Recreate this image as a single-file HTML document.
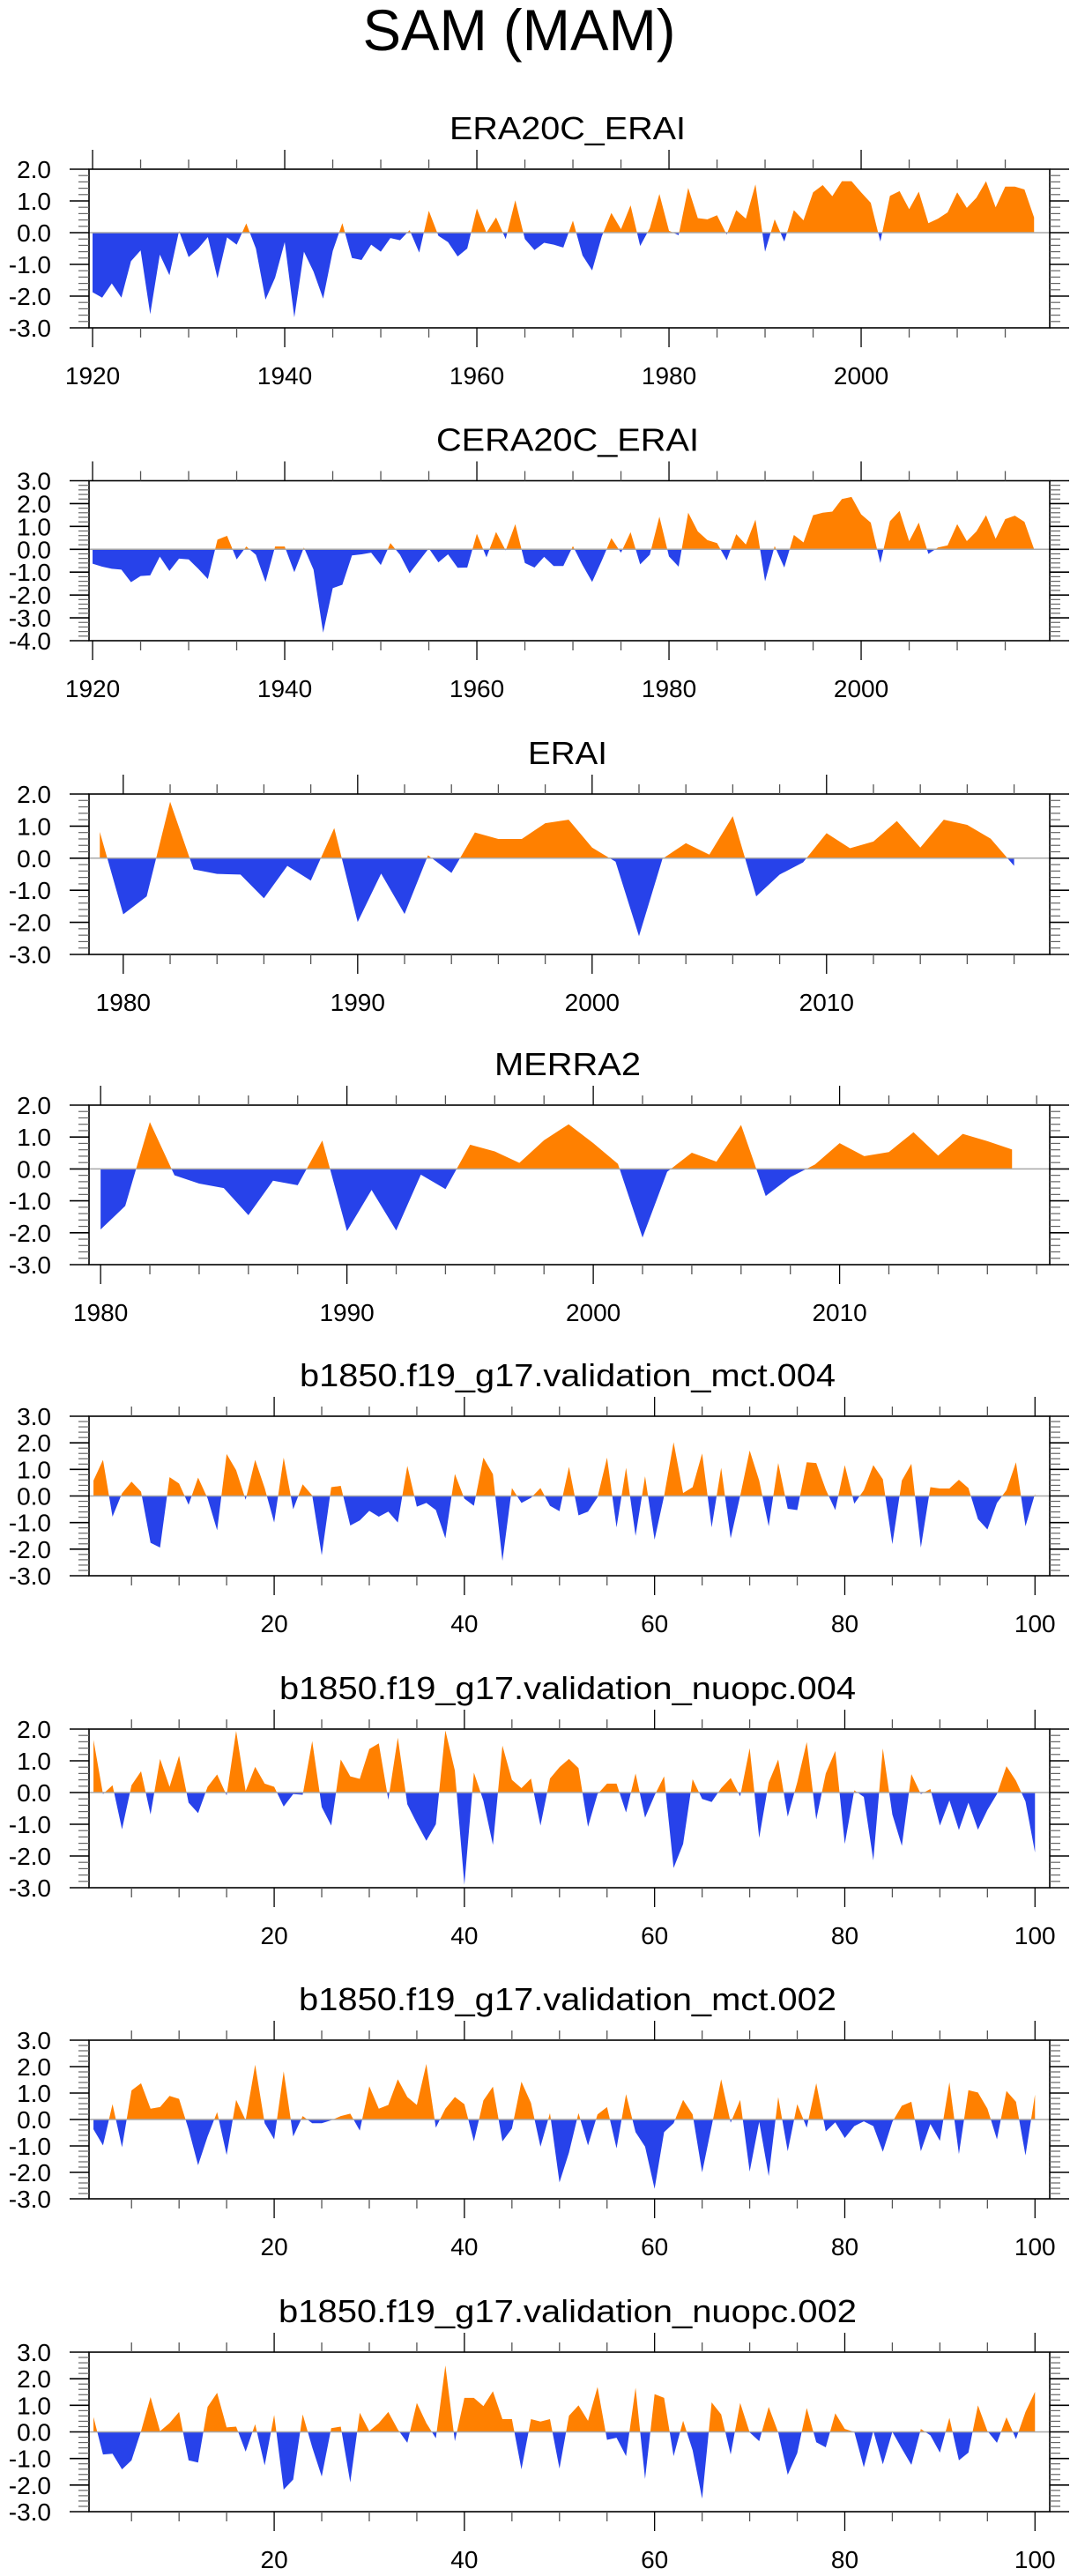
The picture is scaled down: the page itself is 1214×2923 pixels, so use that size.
<!DOCTYPE html>
<html>
<head>
<meta charset="utf-8">
<style>
  html,body{margin:0;padding:0;background:#fff;}
  svg{display:block;}
  text{font-family:"Liberation Sans",Arial,sans-serif;fill:#000;}
</style>
</head>
<body>
<svg id="chart" width="1214" height="2923" viewBox="0 0 1214 2923" xmlns="http://www.w3.org/2000/svg">
  <text x="589" y="57" font-size="66" text-anchor="middle" textLength="355" lengthAdjust="spacingAndGlyphs">SAM (MAM)</text>
</svg>
<script>
// ---------- data ----------
const era20cStartYear = 1920;
const era20cVals = [-1.88,-2.05,-1.6,-2.05,-0.9,-0.56,-2.57,-0.69,-1.34,0.05,-0.77,-0.5,-0.14,-1.44,-0.15,-0.38,0.29,-0.5,-2.11,-1.42,-0.3,-2.67,-0.6,-1.23,-2.08,-0.58,0.3,-0.8,-0.86,-0.38,-0.6,-0.17,-0.24,0.08,-0.63,0.69,-0.1,-0.3,-0.75,-0.5,0.76,0,0.48,-0.2,1.02,-0.2,-0.55,-0.32,-0.38,-0.47,0.38,-0.72,-1.19,-0.12,0.62,0.11,0.86,-0.42,0.14,1.22,0.06,-0.08,1.41,0.46,0.42,0.55,-0.06,0.71,0.44,1.52,-0.6,0.42,-0.28,0.71,0.39,1.27,1.5,1.15,1.62,1.62,1.27,0.94,-0.28,1.16,1.31,0.74,1.29,0.3,0.44,0.64,1.27,0.78,1.1,1.62,0.8,1.45,1.45,1.36,0.48];
const cera20cStartYear = 1920;
const cera20cVals = [-0.63,-0.76,-0.85,-0.89,-1.44,-1.17,-1.14,-0.32,-0.95,-0.41,-0.44,-0.85,-1.3,0.42,0.59,-0.44,0.12,-0.24,-1.43,0.12,0.12,-1.0,0.08,-0.89,-3.65,-1.7,-1.55,-0.27,-0.22,-0.15,-0.69,0.27,-0.24,-1.05,-0.5,0.04,-0.57,-0.22,-0.81,-0.8,0.68,-0.35,0.76,-0.05,1.1,-0.6,-0.8,-0.33,-0.73,-0.73,0.14,-0.69,-1.43,-0.5,0.49,-0.15,0.75,-0.66,-0.24,1.43,-0.31,-0.76,1.6,0.78,0.4,0.27,-0.48,0.66,0.21,1.3,-1.4,0.14,-0.8,0.63,0.3,1.49,1.6,1.65,2.2,2.29,1.53,1.17,-0.6,1.23,1.68,0.36,1.17,-0.2,0.08,0.17,1.1,0.36,0.78,1.49,0.46,1.32,1.47,1.2,0.01];
const eraiStartYear = 1979;
const eraiVals = [0.82,-1.75,-1.19,1.76,-0.35,-0.49,-0.51,-1.25,-0.24,-0.7,0.94,-1.99,-0.48,-1.74,0.09,-0.46,0.8,0.6,0.6,1.09,1.2,0.33,-0.11,-2.43,-0.02,0.47,0.11,1.31,-1.19,-0.51,-0.13,0.78,0.31,0.52,1.16,0.33,1.2,1.04,0.61,-0.24];
const merra2StartYear = 1980;
const merra2Vals = [-1.9,-1.16,1.47,-0.2,-0.46,-0.6,-1.45,-0.37,-0.51,0.89,-1.95,-0.66,-1.93,-0.18,-0.63,0.76,0.55,0.19,0.9,1.4,0.81,0.16,-2.15,-0.09,0.51,0.23,1.38,-0.85,-0.26,0.14,0.81,0.4,0.53,1.15,0.42,1.1,0.87,0.61];
const mct004Vals = [0.58,1.36,-0.78,0.1,0.54,0.16,-1.76,-1.94,0.71,0.47,-0.33,0.69,-0.09,-1.29,1.58,0.97,-0.14,1.36,0.3,-1.0,1.44,-0.5,0.44,0.02,-2.23,0.33,0.38,-1.11,-0.92,-0.56,-0.78,-0.59,-1.0,1.13,-0.4,-0.26,-0.53,-1.59,0.83,-0.1,-0.37,1.44,0.82,-2.44,0.3,-0.26,-0.07,0.3,-0.37,-0.57,1.1,-0.73,-0.59,-0.05,1.44,-1.18,1.06,-1.5,0.74,-1.64,0,2.02,0.11,0.33,1.6,-1.18,1.06,-1.59,0,1.71,0.58,-1.14,1.24,-0.48,-0.53,1.27,1.24,0.24,-0.53,1.16,-0.29,0.22,1.16,0.63,-1.81,0.58,1.21,-1.94,0.33,0.28,0.28,0.61,0.3,-0.87,-1.26,-0.26,0.22,1.27,-1.14,0.08];
const nuopc004Vals = [1.66,-0.05,0.23,-1.16,0.23,0.67,-0.69,1.06,0.18,1.16,-0.32,-0.65,0.18,0.57,-0.09,1.94,0.05,0.81,0.28,0.18,-0.44,-0.05,-0.07,1.62,-0.46,-1.04,1.04,0.51,0.43,1.37,1.55,-0.23,1.73,-0.37,-0.97,-1.52,-1.0,1.96,0.69,-2.91,0.63,-0.26,-1.65,1.48,0.4,0.14,0.44,-1.04,0.44,0.8,1.06,0.77,-1.08,-0.05,0.28,0.28,-0.63,0.6,-0.79,-0.09,0.51,-2.38,-1.62,0.42,-0.2,-0.3,0.14,0.46,-0.12,1.4,-1.43,0.32,1.04,-0.76,0.32,1.59,-0.85,0.6,1.31,-1.62,0.07,-0.14,-2.14,1.39,-0.69,-1.68,0.58,-0.05,0.11,-1.04,-0.25,-1.18,-0.32,-1.17,-0.55,-0.05,0.83,0.37,-0.28,-1.89];
const mct002Vals = [-0.37,-0.98,0.58,-1.05,1.1,1.37,0.41,0.47,0.89,0.78,-0.37,-1.73,-0.64,0.28,-1.34,0.74,-0.03,2.07,-0.14,-0.75,1.82,-0.64,0.13,-0.14,-0.14,-0.03,0.13,0.22,-0.42,1.26,0.41,0.55,1.52,0.85,0.55,2.1,-0.31,0.41,0.85,0.58,-0.83,0.72,1.24,-0.83,-0.34,1.43,0.63,-1.03,0.24,-2.38,-1.25,0.24,-0.98,0.19,0.47,-1.09,0.96,-0.48,-1.03,-2.62,-0.48,-0.14,0.74,0.19,-2.0,-0.25,1.52,-0.12,0.74,-1.97,-0.09,-2.14,0.85,-1.2,0.58,-0.31,1.37,-0.45,-0.11,-0.7,-0.25,-0.07,-0.25,-1.22,-0.09,0.52,0.67,-1.2,-0.17,-0.81,1.41,-1.31,1.11,1.02,0.41,-0.75,1.08,0.67,-1.36,0.94];
const nuopc002Vals = [0.56,-0.85,-0.82,-1.41,-1.07,0.03,1.31,0.03,0.33,0.75,-1.07,-1.15,0.94,1.47,0.17,0.2,-0.74,0.29,-1.26,0.64,-2.17,-1.79,0.66,-0.58,-1.68,0.14,0.2,-1.9,0.72,0.03,0.33,0.75,0.09,-0.41,1.09,0.33,-0.24,2.5,-0.35,1.28,1.28,0.97,1.53,0.48,0.48,-1.41,0.48,0.39,0.48,-1.38,0.61,1.0,0.42,1.69,-0.3,-0.22,-0.91,1.66,-1.77,1.42,1.28,-0.91,0.42,-0.69,-2.51,1.11,0.66,-0.85,1.09,-0.02,-0.35,0.94,-0.02,-1.61,-0.8,0.9,-0.39,-0.58,0.7,0.11,0,-1.33,0.03,-1.22,0,-0.63,-1.24,0.11,-0.13,-0.78,0.53,-1.07,-0.78,1.0,0.03,-0.41,0.55,-0.27,0.75,1.51];
const modelStartIndex = 1;

// tick label arrays
const centuryTickLabels = [1920,1940,1960,1980,2000];
const eraiTickLabels = [1980,1990,2000,2010];
const merra2TickLabels = [1980,1990,2000,2010];
const indexTickLabels = [20,40,60,80,100];

function seq(start, n){ const a=[]; for(let i=0;i<n;i++) a.push(start+i); return a; }
const era20cYears = seq(era20cStartYear, era20cVals.length);
const cera20cYears = seq(cera20cStartYear, cera20cVals.length);
const eraiYears = seq(eraiStartYear, eraiVals.length);
const merra2Years = seq(merra2StartYear, merra2Vals.length);
const modelIndex = seq(modelStartIndex, 100);

// ---------- layout ----------
const panels = [
  {key:'era20c-erai', title:'ERA20C_ERAI', tw:268, xs:era20cYears, ys:era20cVals, top:192, bot:372, ymin:-3, ymax:2, xmin:1919.63, xmax:2019.63, minorStep:5, minorStart:1920, minorEnd:2015, labels:centuryTickLabels},
  {key:'cera20c-erai', title:'CERA20C_ERAI', tw:298, xs:cera20cYears, ys:cera20cVals, top:545.5, bot:727, ymin:-4, ymax:3, xmin:1919.63, xmax:2019.63, minorStep:5, minorStart:1920, minorEnd:2015, labels:centuryTickLabels},
  {key:'erai', title:'ERAI', tw:90, xs:eraiYears, ys:eraiVals, top:901, bot:1083, ymin:-3, ymax:2, xmin:1978.54, xmax:2019.52, minorStep:2, minorStart:1980, minorEnd:2018, labels:eraiTickLabels},
  {key:'merra2', title:'MERRA2', tw:166, xs:merra2Years, ys:merra2Vals, top:1254, bot:1435, ymin:-3, ymax:2, xmin:1979.53, xmax:2018.53, minorStep:2, minorStart:1980, minorEnd:2018, labels:merra2TickLabels},
  {key:'mct-004', title:'b1850.f19_g17.validation_mct.004', tw:608, xs:modelIndex, ys:mct004Vals, top:1607, bot:1788, ymin:-3, ymax:3, xmin:0.53, xmax:101.55, minorStep:5, minorStart:5, minorEnd:100, labels:indexTickLabels},
  {key:'nuopc-004', title:'b1850.f19_g17.validation_nuopc.004', tw:654, xs:modelIndex, ys:nuopc004Vals, top:1962, bot:2142, ymin:-3, ymax:2, xmin:0.53, xmax:101.55, minorStep:5, minorStart:5, minorEnd:100, labels:indexTickLabels},
  {key:'mct-002', title:'b1850.f19_g17.validation_mct.002', tw:610, xs:modelIndex, ys:mct002Vals, top:2315, bot:2495, ymin:-3, ymax:3, xmin:0.53, xmax:101.55, minorStep:5, minorStart:5, minorEnd:100, labels:indexTickLabels},
  {key:'nuopc-002', title:'b1850.f19_g17.validation_nuopc.002', tw:656, xs:modelIndex, ys:nuopc002Vals, top:2669, bot:2850, ymin:-3, ymax:3, xmin:0.53, xmax:101.55, minorStep:5, minorStart:5, minorEnd:100, labels:indexTickLabels}
];

const NS = 'http://www.w3.org/2000/svg';
const svg = document.getElementById('chart');
const X0 = 101, X1 = 1191;
const ORANGE = '#ff8000', BLUE = '#2742ea';

function mk(tag, attrs, parent){
  const e = document.createElementNS(NS, tag);
  for (const k in attrs) e.setAttribute(k, attrs[k]);
  (parent||svg).appendChild(e);
  return e;
}

panels.forEach((p, pi) => {
  const g = mk('g', {});
  
  
  const sx = v => X0 + (v - p.xmin) / (p.xmax - p.xmin) * (X1 - X0);
  const sy = v => p.top + (p.ymax - v) / (p.ymax - p.ymin) * (p.bot - p.top);
  const z = sy(0);

  // title
  const t = mk('text', {x:644, y:p.top-34, 'font-size':36, 'text-anchor':'middle', textLength:p.tw, lengthAdjust:'spacingAndGlyphs'}, g);
  t.textContent = p.title;
  
  

  // clip paths
  const defs = mk('defs', {}, g);
  const cA = mk('clipPath', {id:'ca'+pi}, defs);
  mk('rect', {x:X0, y:p.top, width:X1-X0, height:z-p.top}, cA);
  const cB = mk('clipPath', {id:'cb'+pi}, defs);
  mk('rect', {x:X0, y:z, width:X1-X0, height:p.bot-z}, cB);

  let pts = sx(p.xs[0]).toFixed(2)+','+z.toFixed(2)+' ';
  for (let i=0;i<p.ys.length;i++) pts += sx(p.xs[i]).toFixed(2)+','+sy(p.ys[i]).toFixed(2)+' ';
  pts += sx(p.xs[p.xs.length-1]).toFixed(2)+','+z.toFixed(2);

  const above = mk('polygon', {points:pts, fill:ORANGE, 'clip-path':'url(#ca'+pi+')'}, g);
  
  
  const below = mk('polygon', {points:pts, fill:BLUE, 'clip-path':'url(#cb'+pi+')'}, g);
  
  

  // zero line
  const zl = mk('line', {x1:X0, x2:X1, y1:z, y2:z, stroke:'#a8a8a8', 'stroke-width':1.5}, g);
  
  

  // box
  const box = mk('rect', {x:X0, y:p.top, width:X1-X0, height:p.bot-p.top, fill:'none', stroke:'#000', 'stroke-width':1.6}, g);
  
  

  // y ticks
  const nSteps = Math.round((p.ymax - p.ymin) / 0.2);
  for (let k=0;k<=nSteps;k++){
    const v = p.ymin + k*0.2;
    const y = sy(v);
    const major = Math.abs(v - Math.round(v)) < 1e-6;
    const L = major ? 22 : 12;
    mk('line', {x1:X0-L, x2:X0, y1:y, y2:y, stroke:major?'#000':'#666', 'stroke-width':major?1.6:1.2}, g);
    mk('line', {x1:X1, x2:X1+L, y1:y, y2:y, stroke:major?'#000':'#666', 'stroke-width':major?1.6:1.2}, g);
    if (major){
      const lb = mk('text', {x:58, y:y+10, 'font-size':28, 'text-anchor':'end'}, g);
      lb.textContent = Math.round(v).toFixed(1);
      
      
    }
  }

  // x ticks
  for (let v=p.minorStart; v<=p.minorEnd; v+=p.minorStep){
    const x = sx(v);
    const major = p.labels.indexOf(v) >= 0;
    const L = major ? 22 : 11;
    mk('line', {x1:x, x2:x, y1:p.top-L, y2:p.top, stroke:major?'#000':'#555', 'stroke-width':1.3}, g);
    mk('line', {x1:x, x2:x, y1:p.bot, y2:p.bot+L, stroke:major?'#000':'#555', 'stroke-width':1.3}, g);
  }
  p.labels.forEach(v => {
    const lb = mk('text', {x:sx(v), y:p.bot+64, 'font-size':28, 'text-anchor':'middle'}, g);
    lb.textContent = String(v);
    
    
  });
});
</script>
</body>
</html>
